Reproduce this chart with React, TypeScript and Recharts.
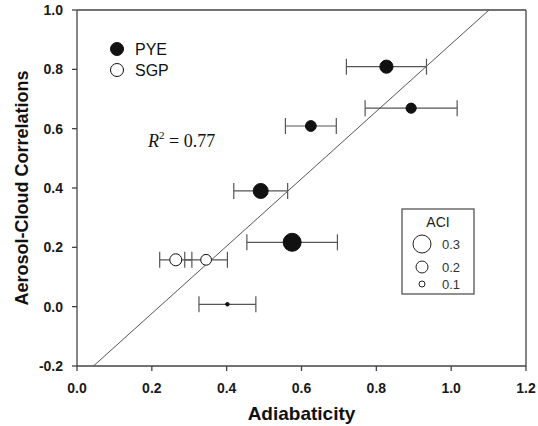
import React from "react";
import {
  ScatterChart,
  Scatter,
  XAxis,
  YAxis,
  ErrorBar,
  ReferenceLine,
} from "recharts";

const xTicks = [0, 0.2, 0.4, 0.6, 0.8, 1.0, 1.2];
const yTicks = [-0.2, 0, 0.2, 0.4, 0.6, 0.8, 1.0];

// PYE site
const pyeAdiabaticity = [0.827, 0.893, 0.625, 0.491, 0.575, 0.402];
const pyeCorrelation = [0.809, 0.669, 0.609, 0.39, 0.217, 0.008];
const pyeError = [0.107, 0.123, 0.068, 0.072, 0.121, 0.076];
const pyeAci = [0.22, 0.17, 0.18, 0.25, 0.3, 0.06];

// SGP site
const sgpAdiabaticity = [0.264, 0.345];
const sgpCorrelation = [0.158, 0.158];
const sgpError = [0.043, 0.057];
const sgpAci = [0.2, 0.18];

// regression line end points
const fitX = [0.044, 1.101];
const fitY = [-0.2, 1.0];

const aciLegend = [0.3, 0.2, 0.1];

const pyeData = pyeAdiabaticity.map((x, i) => ({
  x,
  y: pyeCorrelation[i],
  err: pyeError[i],
  aci: pyeAci[i],
}));
const sgpData = sgpAdiabaticity.map((x, i) => ({
  x,
  y: sgpCorrelation[i],
  err: sgpError[i],
  aci: sgpAci[i],
}));

const FONT = "Arial, 'Liberation Sans', sans-serif";
const AXIS = "#444";

const makeDot = (fill: string) => (props: any) => (
  <circle
    cx={props.cx}
    cy={props.cy}
    r={props.payload.aci * 30}
    fill={fill}
    stroke="#111"
    strokeWidth={1}
  />
);

const tickStyle = { fontSize: 14, fontWeight: 700, fill: "#1a1a1a", fontFamily: FONT };

const App: React.FC = () => {
  return (
    <div style={{ position: "absolute", left: 0, top: 0, width: 538, height: 426, background: "#fff" }}>
      <ScatterChart
        width={538}
        height={426}
        margin={{ top: 5, right: 0, bottom: 0, left: 17 }}
      >
        <XAxis
          xAxisId="bottom"
          type="number"
          dataKey="x"
          domain={[0, 1.2]}
          ticks={xTicks}
          tickFormatter={(v: number) => v.toFixed(1)}
          height={60}
          tickSize={5}
          tickMargin={12}
          tick={tickStyle}
          stroke={AXIS}
          strokeWidth={1.3}
          label={{
            value: "Adiabaticity",
            position: "insideBottom",
            offset: 6,
            style: { fontSize: 19, fontWeight: 700, fill: "#111", fontFamily: FONT },
          }}
        />
        <XAxis
          xAxisId="top"
          orientation="top"
          type="number"
          domain={[0, 1.2]}
          ticks={xTicks}
          tickFormatter={() => ""}
          height={5}
          tickSize={5}
          stroke={AXIS}
          strokeWidth={1.3}
        />
        <YAxis
          yAxisId="left"
          type="number"
          dataKey="y"
          domain={[-0.2, 1.0]}
          ticks={yTicks}
          tickFormatter={(v: number) => v.toFixed(1)}
          width={60}
          tickSize={5}
          tickMargin={9}
          tick={tickStyle}
          stroke={AXIS}
          strokeWidth={1.3}
          label={{
            value: "Aerosol-Cloud Correlations",
            angle: -90,
            position: "insideLeft",
            offset: 0,
            dx: 5,
            style: { textAnchor: "middle", fontSize: 18, fontWeight: 700, fill: "#111", fontFamily: FONT },
          }}
        />
        <YAxis
          yAxisId="right"
          orientation="right"
          type="number"
          domain={[-0.2, 1.0]}
          ticks={yTicks}
          tickFormatter={() => ""}
          width={12}
          tickSize={5}
          stroke={AXIS}
          strokeWidth={1.3}
        />
        <ReferenceLine
          xAxisId="bottom"
          yAxisId="left"
          segment={[
            { x: fitX[0], y: fitY[0] },
            { x: fitX[1], y: fitY[1] },
          ]}
          stroke="#555"
          strokeWidth={1}
        />
        <Scatter
          name="PYE"
          data={pyeData}
          xAxisId="bottom"
          yAxisId="left"
          shape={makeDot("#111")}
          isAnimationActive={false}
        >
          <ErrorBar dataKey="err" direction="x" width={8} stroke="#555" strokeWidth={1.2} />
        </Scatter>
        <Scatter
          name="SGP"
          data={sgpData}
          xAxisId="bottom"
          yAxisId="left"
          shape={makeDot("#fff")}
          isAnimationActive={false}
        >
          <ErrorBar dataKey="err" direction="x" width={8} stroke="#555" strokeWidth={1.2} />
        </Scatter>
      </ScatterChart>

      <svg
        width={538}
        height={426}
        style={{ position: "absolute", left: 0, top: 0, pointerEvents: "none" }}
      >
        {/* site legend */}
        <circle cx={117} cy={49} r={6.5} fill="#111" stroke="#111" />
        <text x={135} y={55} fontSize={16} fontFamily={FONT} fill="#111">PYE</text>
        <circle cx={117} cy={70} r={6.5} fill="#fff" stroke="#111" />
        <text x={135} y={76} fontSize={16} fontFamily={FONT} fill="#111">SGP</text>

        {/* R squared */}
        <text x={148} y={147} fontSize={18} fontFamily="'Liberation Serif', 'Times New Roman', serif" fill="#111">
          <tspan fontStyle="italic">R</tspan>
          <tspan fontSize={11} dy={-8}>2</tspan>
          <tspan dy={8}> = 0.77</tspan>
        </text>

        {/* ACI size legend */}
        <rect x={402} y={209} width={72} height={85} fill="#fff" stroke="#555" strokeWidth={1.3} />
        <text x={438} y={227} fontSize={14} fontFamily={FONT} fill="#222" textAnchor="middle">ACI</text>
        {aciLegend.map((a, i) => (
          <g key={a}>
            <circle cx={422} cy={[244, 267, 284][i]} r={a * 30} fill="#fff" stroke="#222" strokeWidth={1} />
            <text x={442} y={[244, 267, 284][i] + 4.5} fontSize={13} fontFamily={FONT} fill="#333">
              {a.toFixed(1)}
            </text>
          </g>
        ))}
      </svg>
    </div>
  );
};

export default App;
